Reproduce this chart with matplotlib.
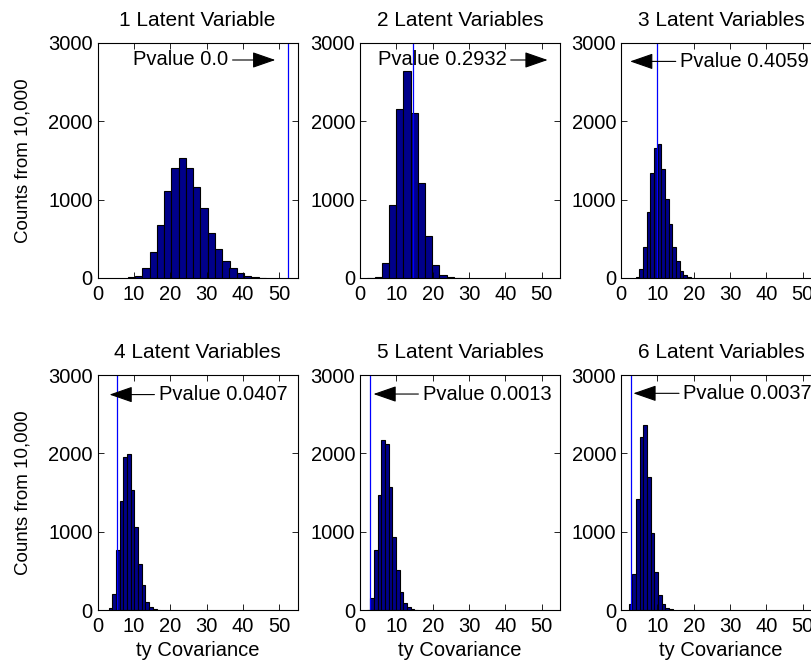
import numpy as np
import matplotlib
matplotlib.use("Agg")
import matplotlib.pyplot as plt

plt.rcParams['font.family'] = ['Liberation Sans', 'DejaVu Sans']
plt.rcParams['font.size'] = 14.5

# permutation test: null distribution of the ty covariance for each model size
titles = ["1 Latent Variable", "2 Latent Variables", "3 Latent Variables",
          "4 Latent Variables", "5 Latent Variables", "6 Latent Variables"]
pvalue_labels = ["0.0", "0.2932", "0.4059", "0.0407", "0.0013", "0.0037"]
observed = [52.5, 14.6, 9.8, 5.3, 2.8, 2.7]

# histogram bins: centre of first bin and bin width
bin_start = [9.3, 3.05, 4.5, 3.6, 2.33, 2.6]
bin_width = [2.0, 1.98, 1.01, 1.01, 1.01, 1.01]

counts_1lv = [8, 30, 123, 336, 677, 1115, 1405, 1530, 1400, 1158, 898, 570,
              366, 213, 128, 60, 30, 8, 3]
counts_2lv = [4, 17, 192, 936, 2154, 2639, 2111, 1217, 532, 170, 43, 8, 2]
counts_3lv = [8, 119, 396, 843, 1345, 1655, 1711, 1396, 1013, 690, 392, 221,
              94, 34, 12, 5]
counts_4lv = [21, 204, 766, 1391, 1949, 1991, 1532, 1064, 587, 319, 98, 43,
              15, 5]
counts_5lv = [3, 150, 766, 1470, 2165, 2120, 1570, 935, 510, 230, 85, 33, 12, 4]
counts_6lv = [80, 465, 1420, 2205, 2365, 1700, 985, 490, 190, 75, 22, 8]
all_counts = [counts_1lv, counts_2lv, counts_3lv,
              counts_4lv, counts_5lv, counts_6lv]

# text arrow placement (data units)
text_x = [36.0, 40.3, 16.2, 16.8, 17.2, 17.1]
text_ha = ['right', 'right', 'left', 'left', 'left', 'left']
arrow_tip = [48.9, 51.6, 2.5, 3.3, 3.7, 3.4]
label_y = [2783, 2783, 2765, 2750, 2757, 2766]

W, H = 811, 663
col_left = [97.5, 360, 621]
row_bottom = [278, 610]
ax_w, ax_h = 200, 235
bar_color = (0, 0, 0.54)

fig = plt.figure(figsize=(W / 100, H / 100), dpi=100)
for i in range(6):
    r, c = divmod(i, 3)
    ax = fig.add_axes([col_left[c] / W, (H - row_bottom[r]) / H, ax_w / W, ax_h / H])
    centers = bin_start[i] + bin_width[i] * np.arange(len(all_counts[i]))
    ax.bar(centers, all_counts[i], width=bin_width[i], color=bar_color,
           edgecolor='k', linewidth=0.8)
    ax.axvline(observed[i], color='b', lw=0.9)
    ax.set_xlim(0, 55)
    ax.set_ylim(0, 3000)
    ax.set_xticks([0, 10, 20, 30, 40, 50])
    ax.set_yticks([0, 1000, 2000, 3000])
    ax.tick_params(direction='in', top=True, right=True, length=4, width=0.6)
    ax.tick_params(axis='x', pad=5)
    for s in ax.spines.values():
        s.set_linewidth(0.8)
    ax.set_title(titles[i], pad=12, fontsize=15)
    ax.annotate('Pvalue ' + pvalue_labels[i], xy=(arrow_tip[i], label_y[i]),
                xytext=(text_x[i], label_y[i]), ha=text_ha[i], va='center',
                arrowprops=dict(arrowstyle='-|>,head_length=0.72,head_width=0.25',
                                mutation_scale=20, color='k', lw=0.8,
                                shrinkA=1, shrinkB=0))
    if c == 0:
        ax.set_ylabel('Counts from 10,000', fontsize=13.5)
        ax.yaxis.set_label_coords(-0.33, 0.5)
    if r == 1:
        ax.set_xlabel('ty Covariance', labelpad=4)

fig.savefig('out.png', dpi=100)
